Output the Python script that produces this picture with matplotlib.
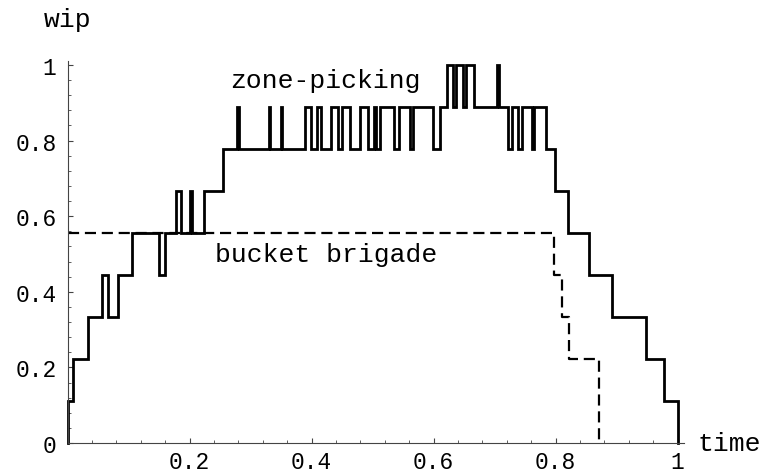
import matplotlib
matplotlib.use("Agg")
import matplotlib.pyplot as plt
import numpy as np
from matplotlib.ticker import MultipleLocator

plt.rcParams['font.family'] = ['Liberation Mono', 'DejaVu Sans Mono']

# zone-picking: change times and wip level (in ninths) holding after each time
zone_times = [0, 0, 0.0095, 0.0341, 0.0561, 0.0669, 0.0823, 0.1052, 0.1505, 0.1598, 0.1774,
              0.1861, 0.2008, 0.2046, 0.2238, 0.2554, 0.2779, 0.2803, 0.3295, 0.3320, 0.3492,
              0.3516, 0.3893, 0.3992, 0.4090, 0.4156, 0.4320, 0.4434, 0.4500, 0.4631, 0.4795,
              0.4926, 0.5025, 0.5057, 0.5123, 0.5352, 0.5434, 0.5615, 0.5664, 0.5992, 0.6107,
              0.6221, 0.6320, 0.6369, 0.6484, 0.6533, 0.6656, 0.7033, 0.7074, 0.7221, 0.7287,
              0.7385, 0.7451, 0.7607, 0.7648, 0.7844, 0.7992, 0.8210, 0.8538, 0.8921, 0.9484,
              0.9779, 1.0]
zone_levels = [0, 1, 2, 3, 4, 3, 4, 5, 4, 5, 6,
               5, 6, 5, 6, 7, 8, 7, 8, 7, 8,
               7, 8, 7, 8, 7, 8, 7, 8, 7, 8,
               7, 8, 7, 8, 7, 8, 7, 8, 7, 8,
               9, 8, 9, 8, 9, 8, 9, 8, 7, 8,
               7, 8, 7, 8, 7, 6, 5, 4, 3, 2,
               1, 0]

# bucket brigade
bucket_times = [0, 0.7975, 0.8100, 0.8226, 0.8718]
bucket_levels = [5, 4, 3, 2, 0]

n_workers = 9

xtick_vals = [0.2, 0.4, 0.6, 0.8, 1.0]
xtick_labels = ['0.2', '0.4', '0.6', '0.8', '1']
ytick_vals = [0, 0.2, 0.4, 0.6, 0.8, 1.0]
ytick_labels = ['0', '0.2', '0.4', '0.6', '0.8', '1']

fig = plt.figure(figsize=(7.62, 4.77), dpi=100)
ax = fig.add_axes([0.0886, 0.0692, 0.8088, 0.8004])

ax.plot(zone_times, np.array(zone_levels) / n_workers, drawstyle='steps-post',
        color='black', lw=2.0, clip_on=False, solid_joinstyle='miter')
ax.plot(bucket_times, np.array(bucket_levels) / n_workers, drawstyle='steps-post',
        color='black', lw=1.6, linestyle=(0, (5, 2.6)), clip_on=False)

ax.set_xlim(0, 1.01)
ax.set_ylim(0, 1.01)

for s in ['top', 'right']:
    ax.spines[s].set_visible(False)
for s in ['left', 'bottom']:
    ax.spines[s].set_color('#444444')
    ax.spines[s].set_linewidth(0.8)

ax.set_xticks(xtick_vals)
ax.set_xticklabels(xtick_labels)
ax.set_yticks(ytick_vals)
ax.set_yticklabels(ytick_labels)
ax.xaxis.set_minor_locator(MultipleLocator(0.04))
ax.yaxis.set_minor_locator(MultipleLocator(0.04))
ax.tick_params(which='major', direction='in', length=3.5, width=0.8, color='#444444',
               labelsize=16.5)
ax.tick_params(which='minor', direction='in', length=2, width=0.6, color='#444444')
ax.tick_params(axis='y', which='major', pad=8)
ax.tick_params(axis='x', which='major', pad=5)

ax.text(1.032, 0.0, 'time', fontsize=19, ha='left', va='center', transform=ax.transData,
        clip_on=False)
ax.text(0.0, 1.104, 'wip', fontsize=19, ha='center', va='baseline', transform=ax.transData,
        clip_on=False)
ax.text(0.266, 0.941, 'zone-picking', fontsize=19, ha='left', va='baseline')
ax.text(0.242, 0.482, 'bucket brigade', fontsize=19, ha='left', va='baseline')

fig.savefig('out.png', dpi=100)
